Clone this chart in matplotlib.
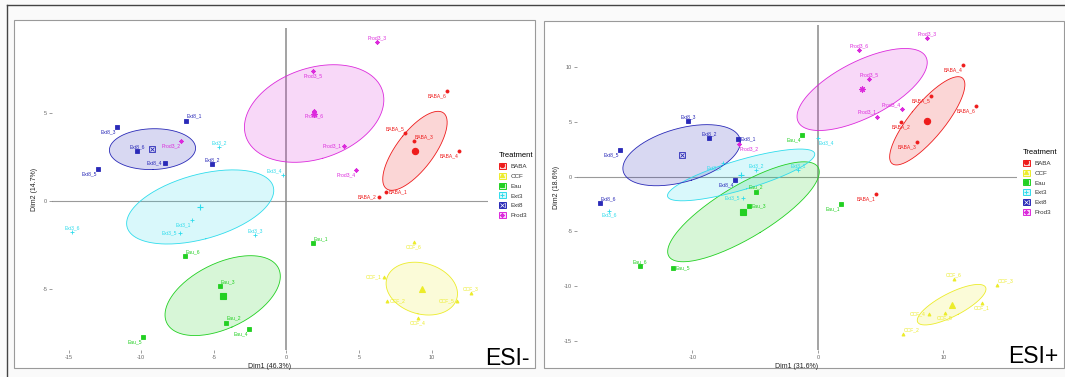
import numpy as np
import matplotlib.pyplot as plt
from matplotlib.patches import Patch, Rectangle
from matplotlib.lines import Line2D
from matplotlib.colors import to_rgba

plt.rcParams['font.family'] = ['Liberation Sans', 'DejaVu Sans']
plt.rcParams['axes.unicode_minus'] = False

treatments = ['BABA', 'CCF', 'Eau', 'Ext3', 'Ext8', 'Prod3']

# ESI- (scores sur Dim1 / Dim2)
neg_names = ['BABA_1', 'BABA_2', 'BABA_3', 'BABA_4', 'BABA_5', 'BABA_6',
             'CCF_1', 'CCF_2', 'CCF_3', 'CCF_4', 'CCF_5', 'CCF_6',
             'Eau_1', 'Eau_2', 'Eau_3', 'Eau_4', 'Eau_5', 'Eau_6',
             'Ext3_1', 'Ext3_2', 'Ext3_3', 'Ext3_4', 'Ext3_5', 'Ext3_6',
             'Ext8_1', 'Ext8_2', 'Ext8_3', 'Ext8_4', 'Ext8_5', 'Ext8_6',
             'Prod3_1', 'Prod3_2', 'Prod3_3', 'Prod3_4', 'Prod3_5', 'Prod3_6']
neg_x = [6.85, 6.37, 8.78, 11.88, 8.16, 11.05,
         6.71, 6.92, 12.71, 9.06, 11.74, 8.78,
         1.83, -4.17, -4.58, -2.58, -9.88, -6.99,
         -6.50, -4.65, -2.17, -0.24, -7.33, -14.77,
         -6.92, -5.13, -11.67, -8.37, -12.98, -10.30,
         3.96, -7.27, 6.23, 4.79, 1.83, 1.89]
neg_y = [0.51, 0.23, 3.41, 2.84, 3.86, 6.25,
         -4.32, -5.68, -5.23, -6.65, -5.68, -2.33,
         -2.39, -6.93, -4.83, -7.27, -7.73, -3.13,
         -1.08, 3.07, -1.93, 1.48, -1.82, -1.76,
         4.55, 2.10, 4.20, 2.16, 1.82, 2.84,
         3.13, 3.40, 9.03, 1.76, 7.39, 5.11]
neg_dims = ['Dim1 (46.3%)', 'Dim2 (14.7%)']

# ESI+
pos_names = neg_names
pos_x = [4.62, 6.61, 7.89, 11.55, 9.00, 12.59,
         13.07, 6.77, 14.26, 8.84, 10.12, 10.84,
         1.83, -4.94, -5.50, -1.27, -11.55, -14.18,
         -1.59, -4.94, -7.57, 0.00, -5.98, -16.65,
         -6.37, -8.69, -10.36, -6.61, -15.78, -17.37,
         4.70, -6.29, 8.69, 6.69, 4.06, 3.27]
pos_y = [-1.59, 4.99, 3.16, 10.18, 7.35, 6.44,
         -11.53, -14.36, -9.90, -12.53, -12.45, -9.35,
         -2.50, -1.38, -2.68, 3.80, -8.34, -8.16,
         0.60, 0.60, 1.24, 3.52, -1.95, -3.10,
         3.43, 3.52, 5.07, -0.31, 2.43, -2.43,
         5.45, 2.98, 12.65, 6.15, 8.90, 11.55]
pos_dims = ['Dim1 (31.6%)', 'Dim2 (18.6%)']

colors = {'BABA': '#ee1c1c', 'CCF': '#ecec2a', 'Eau': '#22d022',
          'Ext3': '#2fdcec', 'Ext8': '#2a2ab8', 'Prod3': '#dc2adc'}
markers = {'BABA': 'o', 'CCF': '^', 'Eau': 's', 'Ext3': '+',
           'Ext8': 's', 'Prod3': (8, 2, 0)}

# position des étiquettes (mise en page seulement)
neg_lab = {'Ext8_1': 'NE', 'Ext8_3': 'SW', 'Ext8_6': 'N', 'Ext8_4': 'W', 'Ext8_5': 'SW',
           'Ext8_2': 'N', 'Prod3_2': 'SW', 'Prod3_3': 'N', 'Prod3_5': 'S', 'Prod3_6': 'S',
           'Prod3_1': 'W', 'Prod3_4': 'SW', 'BABA_6': 'SW', 'BABA_5': 'NW', 'BABA_3': 'NE',
           'BABA_4': 'SW', 'BABA_1': 'E', 'BABA_2': 'W', 'Ext3_2': 'N', 'Ext3_4': 'NW',
           'Ext3_6': 'N', 'Ext3_1': 'SW', 'Ext3_5': 'W', 'Ext3_3': 'N', 'Eau_1': 'NE',
           'Eau_6': 'NE', 'Eau_3': 'NE', 'Eau_2': 'NE', 'Eau_4': 'SW', 'Eau_5': 'SW',
           'CCF_6': 'S', 'CCF_1': 'W', 'CCF_2': 'E', 'CCF_3': 'N', 'CCF_5': 'W', 'CCF_4': 'S'}
pos_lab = {'Ext8_3': 'N', 'Ext8_2': 'N', 'Ext8_1': 'E', 'Ext8_5': 'SW', 'Ext8_4': 'SW',
           'Ext8_6': 'NE', 'Prod3_3': 'N', 'Prod3_6': 'N', 'Prod3_5': 'N', 'Prod3_1': 'NW',
           'Prod3_4': 'NW', 'Prod3_2': 'SE', 'BABA_4': 'SW', 'BABA_5': 'SW', 'BABA_6': 'SW',
           'BABA_2': 'S', 'BABA_3': 'SW', 'BABA_1': 'SW', 'Eau_4': 'SW', 'Eau_2': 'N',
           'Eau_3': 'E', 'Eau_1': 'SW', 'Eau_6': 'N', 'Eau_5': 'E', 'Ext3_4': 'SE',
           'Ext3_1': 'N', 'Ext3_2': 'N', 'Ext3_3': 'SW', 'Ext3_5': 'W', 'Ext3_6': 'S',
           'CCF_6': 'N', 'CCF_3': 'NE', 'CCF_1': 'S', 'CCF_2': 'NE', 'CCF_4': 'W', 'CCF_5': 'S'}
offsets = {'N': (0, 1.5, 'center', 'bottom'), 'S': (0, -1.5, 'center', 'top'),
           'E': (2, 0, 'left', 'center'), 'W': (-2, 0, 'right', 'center'),
           'NE': (0.5, 1.5, 'left', 'bottom'), 'NW': (-0.5, 1.5, 'right', 'bottom'),
           'SE': (0.5, -1.5, 'left', 'top'), 'SW': (-0.5, -1.5, 'right', 'top')}

W, H = 1065, 377
fig = plt.figure(figsize=(W / 100, H / 100), dpi=100, facecolor='#fafafa')


def fx(p):
    return p / W


def fy(p):
    return 1 - p / H


def cadre(x0, y0, x1, y1):
    fig.add_artist(Rectangle((fx(x0), fy(y1)), fx(x1 - x0), (y1 - y0) / H,
                             transform=fig.transFigure, facecolor='white',
                             edgecolor='#9a9a9a', lw=0.8, zorder=0))


# cadres extérieurs
cadre(14, 20, 535, 368)
cadre(544, 21, 1064, 368)
fig.add_artist(Line2D([fx(7), 1], [fy(5), fy(5)], transform=fig.transFigure, color='#444444', lw=1))
fig.add_artist(Line2D([fx(7), fx(7)], [fy(5), 0], transform=fig.transFigure, color='#444444', lw=1))


# ellipse de confiance à 95% autour du barycentre
def ellipse(x, y, npts=200):
    x = np.asarray(x)
    y = np.asarray(y)
    cov = np.cov(x, y) / len(x)
    vals, vecs = np.linalg.eigh(cov)
    t = np.linspace(0, 2 * np.pi, npts)
    circ = np.vstack([np.cos(t), np.sin(t)]) * np.sqrt(5.991 * vals)[:, None]
    pts = vecs @ circ
    return x.mean() + pts[0], y.mean() + pts[1]


def graphique(ax, names, xs, ys, dims, lab, xticks, yticks, xlim, ylim, leg_anchor):
    names = np.array(names)
    xs = np.array(xs)
    ys = np.array(ys)
    groupe = np.array([n.split('_')[0] for n in names])

    ax.axhline(0, color='#9a9a9a', lw=0.8, zorder=1)
    ax.axvline(0, color='#8a8a8a', lw=1.1, zorder=1)

    for g in treatments:
        c = colors[g]
        m = groupe == g
        ex, ey = ellipse(xs[m], ys[m])
        ax.fill(ex, ey, color=to_rgba(c, 0.18), lw=0, zorder=2)
        ax.plot(ex, ey, color=c, lw=0.6, zorder=3)
        ms = 2.2 if markers[g] not in ('+', (8, 2, 0)) else 3
        ax.plot(xs[m], ys[m], ls='', marker=markers[g], color=c, ms=ms, mew=0.6, zorder=4)
        mx, my = xs[m].mean(), ys[m].mean()
        if g == 'Ext8':
            ax.plot(mx, my, ls='', marker='s', mfc='none', mec=c, ms=4.5, mew=0.6, zorder=5)
            ax.plot(mx, my, ls='', marker='x', color=c, ms=3.5, mew=0.6, zorder=5)
        else:
            ax.plot(mx, my, ls='', marker=markers[g], color=c, ms=4.5, mew=0.8, zorder=5)
        for n, x, y in zip(names[m], xs[m], ys[m]):
            dx, dy, ha, va = offsets[lab[n]]
            ax.annotate(n, (x, y), xytext=(dx, dy), textcoords='offset points',
                        ha=ha, va=va, fontsize=3.6, color=c, zorder=6)

    ax.set_xlim(xlim)
    ax.set_ylim(ylim)
    ax.set_xticks(xticks)
    ax.set_yticks(yticks)
    ax.tick_params(length=2, width=0.5, color='#777777', labelsize=4,
                   labelcolor='#666666', pad=1.5)
    for s in ax.spines.values():
        s.set_visible(False)
    ax.set_facecolor('none')
    ax.set_xlabel(dims[0], fontsize=5, color='#222222', labelpad=2)
    ax.set_ylabel(dims[1], fontsize=5, color='#222222', labelpad=3)

    # légende
    handles = []
    for g in treatments:
        c = colors[g]
        box = Patch(facecolor=to_rgba(c, 0.2), edgecolor=c, lw=0.7)
        if g == 'Ext8':
            handles.append((box, Line2D([], [], ls='', marker='s', color=c, ms=3),
                            Line2D([], [], ls='', marker='x', color='white', ms=2.2, mew=0.5)))
        else:
            handles.append((box, Line2D([], [], ls='', marker=markers[g], color=c, ms=3, mew=0.7)))
    leg = ax.legend(handles, treatments, title='Treatment', loc='upper left',
                    bbox_to_anchor=leg_anchor, bbox_transform=fig.transFigure,
                    frameon=False, fontsize=4.5, title_fontsize=5.5, handlelength=1.1,
                    handleheight=1.1, labelspacing=0.6, handletextpad=0.7,
                    borderpad=0, borderaxespad=0, alignment='left')
    for t in leg.get_texts():
        t.set_color('#333333')


ax1 = fig.add_axes([fx(52), fy(350), (488 - 52) / W, (350 - 28) / H])
graphique(ax1, neg_names, neg_x, neg_y, neg_dims, neg_lab,
          [-15, -10, -5, 0, 5, 10], [-5, 0, 5], (-16.15, 13.88), (-8.47, 9.83),
          (fx(499), fy(152)))

ax2 = fig.add_axes([fx(577), fy(350), (1017 - 577) / W, (350 - 25) / H])
graphique(ax2, pos_names, pos_x, pos_y, pos_dims, pos_lab,
          [-10, 0, 10], [-15, -10, -5, 0, 5, 10], (-19.2, 15.86), (-15.82, 13.83),
          (fx(1023), fy(149)))

fig.text(fx(530), fy(365), 'ESI-', ha='right', va='baseline', fontsize=16.5, color='black')
fig.text(fx(1058), fy(363), 'ESI+', ha='right', va='baseline', fontsize=16.5, color='black')

fig.savefig('out.png', dpi=100, facecolor=fig.get_facecolor())
